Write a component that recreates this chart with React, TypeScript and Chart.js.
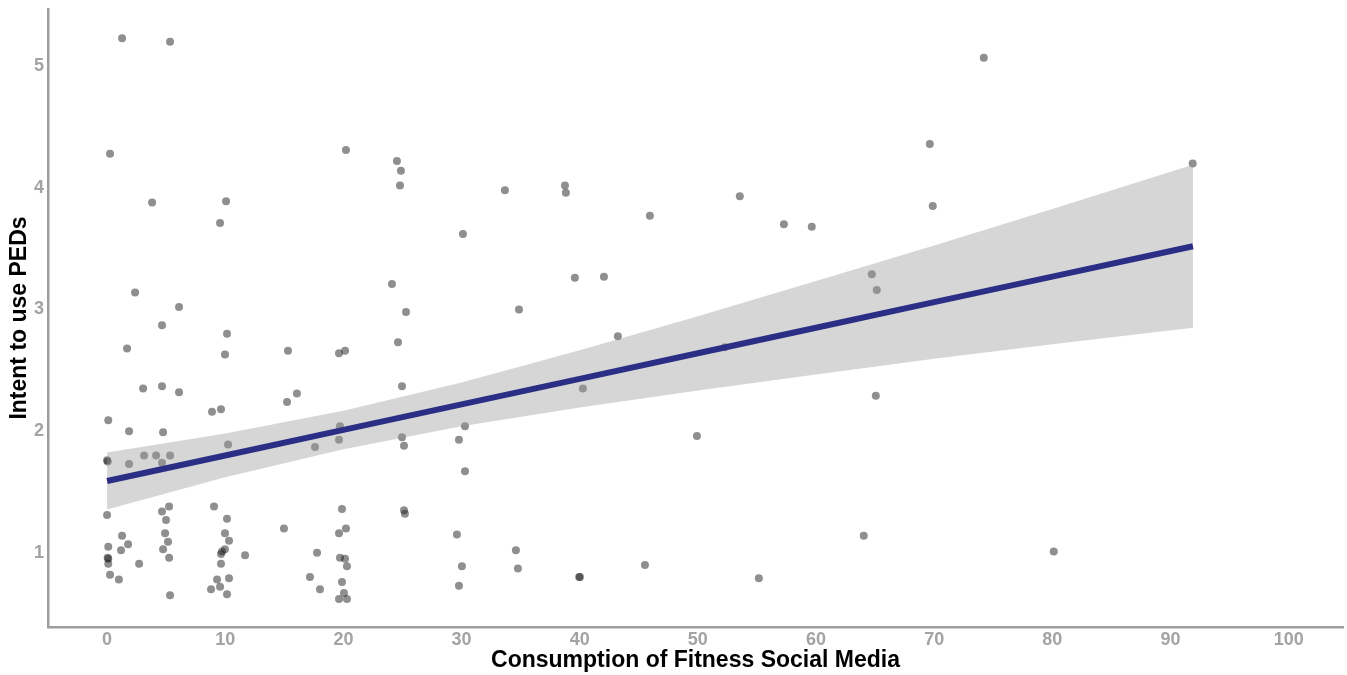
import React, { useEffect, useRef } from 'react';
import { Chart, registerables } from 'chart.js';

Chart.register(...registerables);

// Observations: Consumption of Fitness Social Media (x) vs Intent to use PEDs (y)
const pointX = [
  0.25, 0.10, 0.00, 0.05, 0.00, 0.10, 0.10, 0.05, 0.10, 0.25,
  1.27, 1.00, 1.27, 1.18, 1.78, 1.69, 1.86, 1.86, 2.37, 2.71,
  3.05, 3.13, 3.81, 4.15, 4.65, 4.65, 4.74, 4.65, 4.65, 5.25,
  4.99, 4.91, 5.16, 4.74, 5.25, 5.33, 5.33, 5.33, 6.09, 6.09,
  8.88, 9.64, 9.05, 10.15, 9.98, 10.32, 9.98, 9.73, 9.64, 11.68,
  9.64, 9.31, 10.32, 8.80, 9.56, 10.15, 10.07, 9.56, 10.15, 9.98,
  10.24, 14.97, 15.23, 16.07, 15.31, 17.60, 17.77, 17.17, 18.02, 19.63,
  20.14, 20.22, 19.71, 19.63, 19.88, 20.22, 19.63, 19.71, 20.14, 20.30,
  19.88, 20.05, 19.63, 20.30, 24.11, 24.53, 24.87, 24.79, 24.62, 25.30,
  24.96, 24.96, 25.13, 25.13, 25.21, 30.12, 30.29, 29.78, 30.29, 29.61,
  30.03, 29.78, 33.67, 34.86, 34.60, 34.77, 38.75, 38.83, 39.59, 42.05,
  43.23, 40.27, 40.02, 39.95, 45.94, 45.52, 49.92, 52.28, 53.55, 55.16,
  57.28, 59.64, 64.04, 64.72, 65.14, 65.06, 69.63, 69.88, 74.20, 80.12,
  91.88,
];
const pointY = [
  4.28, 2.09, 1.76, 1.75, 1.31, 1.05, 0.95, 0.96, 0.91, 0.82,
  5.23, 0.78, 1.14, 1.02, 1.07, 2.68, 2.00, 1.73, 3.14, 0.91,
  2.35, 1.80, 3.88, 1.80, 2.87, 2.37, 1.99, 1.74, 1.34, 1.38,
  1.27, 1.16, 1.09, 1.03, 0.96, 0.65, 5.20, 1.80, 3.02, 2.32,
  2.16, 2.18, 1.38, 1.28, 1.16, 1.10, 1.03, 1.01, 0.99, 0.98,
  0.91, 0.78, 0.79, 0.70, 0.72, 0.66, 3.89, 3.71, 2.80, 2.63,
  1.89, 1.20, 2.24, 2.31, 2.66, 1.87, 1.00, 0.80, 0.70, 2.64,
  2.66, 4.31, 2.04, 1.93, 1.36, 1.20, 1.16, 0.96, 0.95, 0.89,
  0.76, 0.67, 0.62, 0.62, 3.21, 4.22, 4.14, 4.02, 2.73, 2.98,
  2.37, 1.95, 1.88, 1.35, 1.32, 3.62, 2.04, 1.93, 1.67, 1.15,
  0.89, 0.73, 3.98, 3.00, 1.02, 0.87, 4.02, 3.96, 3.26, 3.27,
  2.78, 2.35, 0.80, 0.80, 3.77, 0.90, 1.96, 2.69, 3.93, 0.79,
  3.70, 3.68, 1.14, 3.29, 3.16, 2.29, 4.36, 3.85, 5.07, 1.01,
  4.20,
];

// Fitted regression line and its confidence band
const fitX = [0, 10, 20, 30, 40, 50, 60, 70, 80, 91.9];
const fitY = [1.59, 1.80, 2.01, 2.22, 2.43, 2.64, 2.85, 3.06, 3.27, 3.52];
const bandUpper = [1.825, 1.98, 2.168, 2.40, 2.665, 2.945, 3.235, 3.525, 3.825, 4.19];
const bandLower = [1.355, 1.62, 1.852, 2.04, 2.195, 2.335, 2.465, 2.595, 2.715, 2.85];

const xTicks = [0, 10, 20, 30, 40, 50, 60, 70, 80, 90, 100];
const yTicks = [1, 2, 3, 4, 5];

const FONT = '"Liberation Sans", Arial, Helvetica, sans-serif';

export default function App() {
  const ref = useRef<HTMLCanvasElement>(null);

  useEffect(() => {
    document.body.style.margin = '0';
    const canvas = ref.current;
    if (!canvas) return;
    const chart = new Chart(canvas, {
      type: 'scatter',
      data: {
        datasets: [
          {
            type: 'line',
            label: 'fit',
            data: fitX.map((x, i) => ({ x, y: fitY[i] })),
            borderColor: '#2A2F85',
            borderWidth: 6,
            pointRadius: 0,
            fill: false,
            order: 1,
          } as any,
          {
            type: 'line',
            label: 'upper',
            data: fitX.map((x, i) => ({ x, y: bandUpper[i] })),
            borderColor: 'transparent',
            borderWidth: 0,
            pointRadius: 0,
            fill: '+1',
            backgroundColor: 'rgba(153,153,153,0.4)',
            order: 2,
          } as any,
          {
            type: 'line',
            label: 'lower',
            data: fitX.map((x, i) => ({ x, y: bandLower[i] })),
            borderColor: 'transparent',
            borderWidth: 0,
            pointRadius: 0,
            fill: false,
            order: 2,
          } as any,
          {
            label: 'points',
            data: pointX.map((x, i) => ({ x, y: pointY[i] })),
            backgroundColor: 'rgba(20,20,20,0.48)',
            borderWidth: 0,
            pointRadius: 4,
            pointHoverRadius: 4,
            order: 3,
          },
        ],
      },
      options: {
        animation: false,
        responsive: false,
        devicePixelRatio: 1,
        layout: { padding: { top: 9, right: 1, left: 0, bottom: 0 } },
        plugins: {
          legend: { display: false },
          tooltip: { enabled: false },
        },
        scales: {
          x: {
            type: 'linear',
            min: -5,
            max: 104.6,
            afterBuildTicks: (s: any) => {
              s.ticks = xTicks.map((v) => ({ value: v }));
            },
            afterFit: (s: any) => {
              s.height = 48;
              s.paddingLeft = 0;
              s.paddingRight = 0;
            },
            grid: { display: false, drawTicks: false },
            border: { display: true, color: '#9E9E9E', width: 2.5 },
            ticks: {
              color: '#A3A3A3',
              font: { family: FONT, size: 18, weight: 'bold' },
              padding: 2,
              maxRotation: 0,
              autoSkip: false,
            },
            title: {
              display: true,
              text: 'Consumption of Fitness Social Media',
              color: '#000000',
              font: { family: FONT, size: 23, weight: 'bold' },
              padding: { top: 0, bottom: 1 },
            },
          },
          y: {
            type: 'linear',
            min: 0.39,
            max: 5.47,
            afterBuildTicks: (s: any) => {
              s.ticks = yTicks.map((v) => ({ value: v }));
            },
            afterFit: (s: any) => {
              s.width = 48;
              s.paddingTop = 0;
              s.paddingBottom = 0;
            },
            grid: { display: false, drawTicks: false },
            border: { display: true, color: '#9E9E9E', width: 2.5 },
            ticks: {
              color: '#A3A3A3',
              font: { family: FONT, size: 18, weight: 'bold' },
              padding: 4,
            },
            title: {
              display: true,
              text: 'Intent to use PEDs',
              color: '#000000',
              font: { family: FONT, size: 23, weight: 'bold' },
              padding: { top: 6, bottom: 0 },
            },
          },
        },
      } as any,
    });
    return () => chart.destroy();
  }, []);

  return (
    <div style={{ width: 1347, height: 675, background: '#ffffff' }}>
      <canvas ref={ref} width={1347} height={675} />
    </div>
  );
}
